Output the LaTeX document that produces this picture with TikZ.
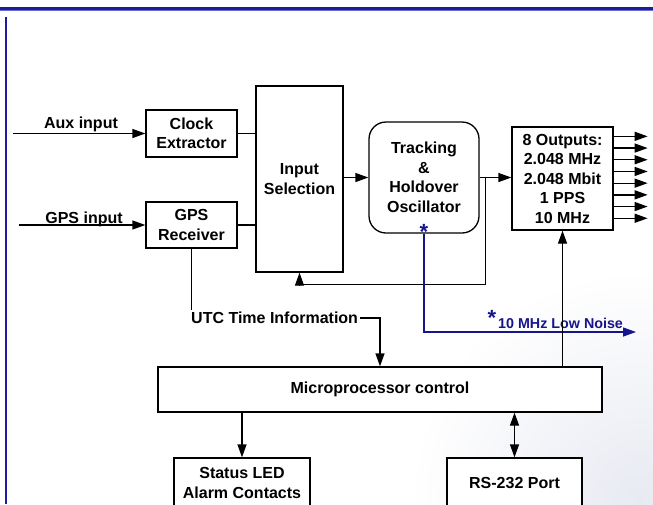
\documentclass[tikz,border=0pt]{standalone}
\usepackage{fontspec}
\setmainfont{Liberation Sans}
\usetikzlibrary{arrows.meta,calc}
\definecolor{cBar}{HTML}{1C1CA0}
\definecolor{cBarLt}{HTML}{7070CC}
\definecolor{cLow}{HTML}{16168C}
\definecolor{cHaze}{HTML}{E8EAF2}
\tikzset{
  blk/.style={draw, line width=1.3pt, fill=white, align=center, inner sep=0pt},
  flow/.style={-{Triangle[length=13pt,width=9pt]}, line width=1.3pt},
  link/.style={line width=1.3pt},
  both/.style={{Triangle[length=13pt,width=9pt]}-{Triangle[length=13pt,width=9pt]}, line width=1.3pt},
  lownoise/.style={flow, draw=cLow},
  astk/.style={text=cLow, inner sep=0pt, font=\fontsize{22}{22}\selectfont\bfseries},
  inlabel/.style={anchor=base, inner sep=0pt},
}

\begin{document}
\begin{tikzpicture}[x=1pt, y=-1pt, font=\fontsize{16}{19.5}\selectfont\bfseries]
    \useasboundingbox (0,0) rectangle (653,504);
    % slide background and frame
    \shade[inner color=cHaze, outer color=white] (640,500) circle[radius=230];
    \fill[cBar] (0,7) rectangle (653,10);
    \fill[cBarLt] (0,10) rectangle (653,11);
    \fill[cBar] (4.5,17) rectangle (6.5,504);
    % front end
    \node[blk, minimum width=91pt, minimum height=47pt] (clock) at (191.5,133.5) {Clock\\Extractor};
    \node[blk, minimum width=91pt, minimum height=46pt] (gps) at (191.5,225) {GPS\\Receiver};
    \node[blk, minimum width=87pt, minimum height=186pt] (insel) at (299.5,179) {Input\\Selection};
    \node[blk, rounded corners=17pt, minimum width=110pt, minimum height=111pt] (track) at (424,177.5)
      {Tracking\\\&\\Holdover\\Oscillator};
    \node[blk, minimum width=101pt, minimum height=103pt] (outs) at (562.5,178.5)
      {8 Outputs:\\2.048 MHz\\2.048 Mbit\\1 PPS\\10 MHz};
    % control part
    \node[blk, minimum width=444pt, minimum height=45pt] (micro) at (380,389.5) {Microprocessor control};
    \node[blk, minimum width=136pt, minimum height=50pt] (status) at (242,483) {Status LED\\Alarm Contacts};
    \node[blk, minimum width=135pt, minimum height=50pt] (rs) at (514.5,483) {RS-232 Port};
    % inputs
    \coordinate (auxin) at (13,133.5);
    \coordinate (gpsin) at (19,225);
    \draw[flow] (auxin) -- (clock);
    \draw[flow] (gpsin) -- (gps);
    \node[inlabel] (auxlbl) at (81,128) {Aux input};
    \node[inlabel] (gpslbl) at (84,223) {GPS input};
    \draw[link] (clock.east) -- (clock.east -| insel.west);
    \draw[link] (gps.east) -- (gps.east -| insel.west);
    % main path and feedback
    \draw[flow] (insel.east |- track.west) -- (track.west);
    \draw[flow] (track.east) -- (track.east -| outs.west);
    \coordinate (split) at ($(track.east)+(6,0)$);
    \draw[link] (split) -- ++(0,107) coordinate (fbturn);
    \draw[flow] (fbturn) -| (insel.south);
    \foreach \k in {0,...,7}
      \draw[flow] ($(outs.north east)+(0,10+11.7*\k)$) -- ++(34,0);
    % low noise output
    \node[astk, anchor=base] (trkstar) at (424,239) {*};
    \coordinate (lowout) at (636,332);
    \draw[lownoise] (track.south) |- (lowout);
    \node[astk, anchor=base] (lowstar) at (492,325) {*};
    \node[anchor=base west, inner sep=0pt, text=cLow, font=\fontsize{14.3}{15}\selectfont\bfseries] (lowtxt)
      at (498,328) {10 MHz Low Noise};
    % time info to control
    \node[anchor=west, fill=white, inner sep=2pt] (utc) at (189,318) {UTC Time Information};
    \draw[link] (gps.south) -- (gps.south |- utc.north);
    \draw[flow] (utc.east) -| (micro.north);
    \draw[flow] (micro.north -| outs.south) -- (outs.south);
    \draw[flow] (micro.south -| status.north) -- (status.north);
    \draw[both] (micro.south -| rs.north) -- (rs.north);
  \end{tikzpicture}
\end{document}
